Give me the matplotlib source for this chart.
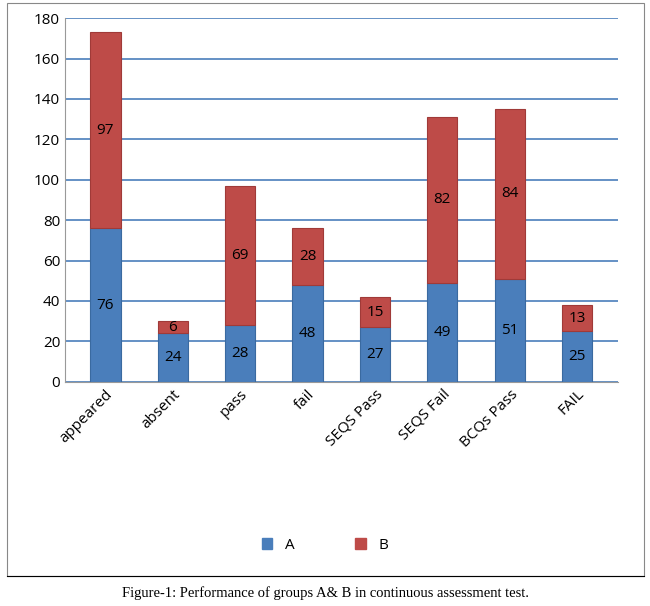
import matplotlib.pyplot as plt
import numpy as np
from matplotlib.patches import Patch

plt.rcParams['font.family'] = ['Open Sans', 'DejaVu Sans']

categories = ["appeared", "absent", "pass", "fail", "SEQS Pass", "SEQS Fail", "BCQs Pass", "FAIL"]
series_a = [76, 24, 28, 48, 27, 49, 51, 25]
series_b = [97, 6, 69, 28, 15, 82, 84, 13]
yticks = [0, 20, 40, 60, 80, 100, 120, 140, 160, 180]

fig = plt.figure(figsize=(6.5, 6.06), dpi=100)
fig.patch.set_facecolor("white")
ax = fig.add_axes([0.10, 0.37, 0.85, 0.60])
x = np.arange(len(categories))
ca, cb = "#4a7ebb", "#be4b48"
ba = ax.bar(x, series_a, width=0.45, color=ca, edgecolor="#3a6aa0", linewidth=0.8, zorder=3)
bb = ax.bar(x, series_b, width=0.45, bottom=series_a, color=cb, edgecolor="#a03a38", linewidth=0.8, zorder=3)
for r, v in zip(ba, series_a):
    ax.text(r.get_x() + r.get_width()/2, r.get_y() + r.get_height()/2, str(v), ha="center", va="center", fontsize=11, zorder=4)
for r, v in zip(bb, series_b):
    ax.text(r.get_x() + r.get_width()/2, r.get_y() + r.get_height()/2, str(v), ha="center", va="center", fontsize=11, zorder=4)
ax.set_ylim(0, 180)
ax.set_yticks(yticks)
ax.set_xlim(-0.6, len(categories) - 0.4)
ax.yaxis.grid(True, color="#4a7ebb", linewidth=1.2, zorder=0)
ax.set_xticks(x)
ax.set_xticklabels(categories, rotation=45, ha="right", rotation_mode="anchor", fontsize=11)
ax.tick_params(axis="y", labelsize=11, length=0)
ax.tick_params(axis="x", length=0)
for s in ["top", "right"]:
    ax.spines[s].set_visible(False)
ax.spines["left"].set_color("#999999")
ax.spines["bottom"].set_color("#999999")
fig.legend(handles=[Patch(color=ca, label="A"), Patch(color=cb, label="B")], loc="lower center",
           bbox_to_anchor=(0.5, 0.065), ncol=2, frameon=False, fontsize=11, handlelength=0.7, columnspacing=4)
fig.add_artist(plt.Line2D([0.01, 0.99], [0.05, 0.05], color="black", linewidth=0.8))
fig.add_artist(plt.Rectangle((0.01, 0.05), 0.98, 0.945, fill=False, edgecolor="#888888", linewidth=0.8))
fig.text(0.5, 0.022, "Figure-1: Performance of groups A& B in continuous assessment test.", ha="center", va="center",
         fontsize=10.5, family="Liberation Serif")
fig.savefig("out.png", dpi=100)
